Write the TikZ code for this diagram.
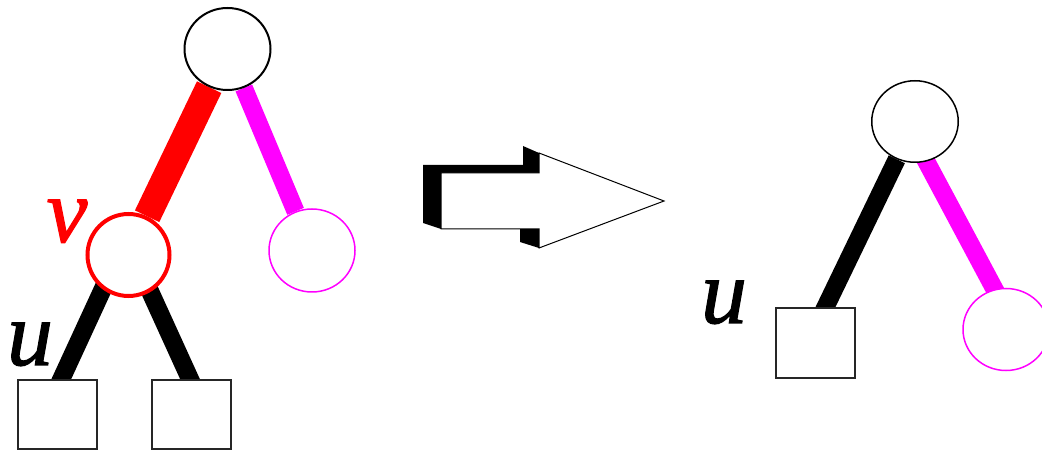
\documentclass[tikz,border=0pt]{standalone}
\usepackage{fontspec}
\setmainfont{Liberation Serif}
\newfontfamily\lblfont[FakeBold=1.2]{Liberation Serif}
\usetikzlibrary{shapes.geometric,backgrounds,calc}
\definecolor{mag}{RGB}{255,0,255}
\begin{document}
\begin{tikzpicture}[x=1pt,y=-1pt,
 tnode/.style={ellipse,draw=black,line width=2pt,fill=white,minimum width=86pt,minimum height=82pt,inner sep=0pt},
 vnode/.style={circle,draw=red,line width=4pt,fill=white,minimum size=82pt,inner sep=0pt},
 mnode/.style={ellipse,draw=mag,line width=1.5pt,fill=white,minimum width=86pt,minimum height=83pt,inner sep=0pt},
 leaf/.style={rectangle,draw=black!85,line width=2pt,fill=white,minimum width=79pt,minimum height=69pt,inner sep=0pt},
 lbl/.style={font=\lblfont\fontsize{92}{92}\selectfont\itshape,anchor=base,inner sep=0pt},
 blackedge/.style={line width=18pt,black},
 rededge/.style={line width=27pt,red},
 magedge/.style={line width=18pt,mag},
 shadow/.style={fill=black},
 bigarrow/.style={fill=white,draw=black,line width=1pt,line join=miter}
]
\useasboundingbox (0,0) rectangle (1042,454);

% left tree
\node[tnode] (t1) at (227.5,49) {};
\node[vnode] (v) at (128.5,255) {};
\node[mnode] (m1) at (312,250.5) {};
\node[leaf] (s1) at (57.5,414.5) {};
\node[leaf] (s2) at (191.5,414.5) {};
\node[lbl,red] (lv) at (67,242) {v};
\node[lbl] (lu1) at (30,365) {u};

% right tree
\node[tnode,minimum width=86.5pt,minimum height=81.5pt,line width=1.5pt] (t2) at (915,121.5) {};
\node[leaf,minimum height=70pt] (s3) at (815.5,343) {};
\node[mnode,minimum height=82pt] (m2) at (1006,329.5) {};
\node[lbl] (lu2) at (724,323) {u};

\begin{scope}[on background layer]
 \draw[rededge] (t1) -- (v);
 \draw[magedge] (t1) -- (m1);
 \draw[blackedge] ($(v)+(-10,0)$) -- ($(s1.north)!-0.3!($(v)+(-10,0)$)+(5,0)$);
 \draw[blackedge] ($(v)+(5,0)$) -- ($(s2.north)!-0.3!($(v)+(5,0)$)+(-2,0)$);
 \draw[blackedge] (t2) -- ($(s3.north)!-0.2!(t2)+(12,0)$);
 \draw[magedge] ($(t2)+(-10,0)$) -- ($(m2)+(10,0)$);
\end{scope}

% big hollow arrow with 3D shadow
\fill[shadow] (441,229) -- (423,223) -- (423,165) -- (523,165) -- (523,146) -- (539,153) -- (539,173) -- (441,173) -- cycle;
\fill[shadow] (520,229) -- (520,242) -- (539,248) -- (539,229) -- cycle;
\draw[bigarrow] (441,173) -- (539,173) -- (539,153) -- (664,201) -- (539,248) -- (539,229) -- (441,229) -- cycle;
\end{tikzpicture}
\end{document}
